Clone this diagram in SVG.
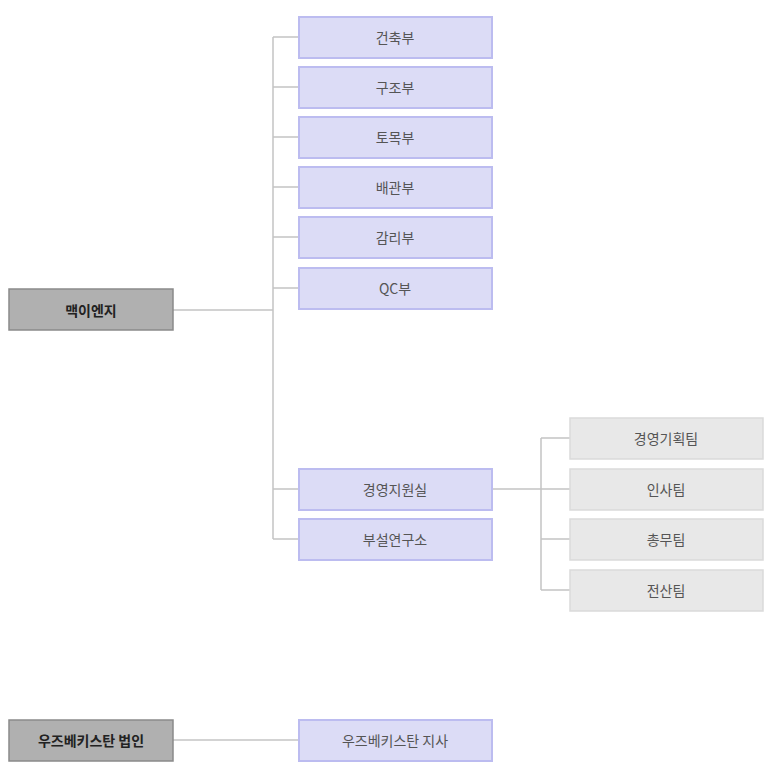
<svg xmlns="http://www.w3.org/2000/svg" width="773" height="769" viewBox="0 0 773 769">
<style>
text{font-family:"Noto Sans CJK KR","Noto Sans",sans-serif;font-size:14px;fill:#555;text-anchor:middle;dominant-baseline:central}
.b rect{fill:#dcdcf6;stroke:#bcbcf0;stroke-width:2}
.g rect{fill:#e8e8e8;stroke:#dadada;stroke-width:1.5}
.d rect{fill:#b0b0b0;stroke:#8a8a8a;stroke-width:1.5}
.d text{font-weight:bold;fill:#222}
#conn{stroke:#c4c4c4;stroke-width:1.5;fill:none}
</style>
<rect width="773" height="769" fill="#fff"/>
<g id="conn">
<path d="M173 310H273M273 37V539M273 37H298M273 87H298M273 137H298M273 187H298M273 237H298M273 288H298M273 489H298M273 539H298"/>
<path d="M492 489H570M541 438V590M541 438H570M541 539H570M541 590H570"/>
<path d="M173 740H298"/>
</g>
<g id="n0" class="d"><rect x="9" y="289" width="164" height="41"/><text x="91" y="310">맥이엔지</text></g>
<g id="n1" class="b"><rect x="299" y="17" width="193" height="41"/><text x="395" y="37">건축부</text></g>
<g id="n2" class="b"><rect x="299" y="67" width="193" height="41"/><text x="395" y="87">구조부</text></g>
<g id="n3" class="b"><rect x="299" y="117" width="193" height="41"/><text x="395" y="137">토목부</text></g>
<g id="n4" class="b"><rect x="299" y="167" width="193" height="41"/><text x="395" y="187">배관부</text></g>
<g id="n5" class="b"><rect x="299" y="217" width="193" height="41"/><text x="395" y="237">감리부</text></g>
<g id="n6" class="b"><rect x="299" y="268" width="193" height="41"/><text x="395" y="288">QC부</text></g>
<g id="n7" class="b"><rect x="299" y="469" width="193" height="41"/><text x="395" y="489">경영지원실</text></g>
<g id="n8" class="b"><rect x="299" y="519" width="193" height="41"/><text x="395" y="539">부설연구소</text></g>
<g id="n9" class="g"><rect x="570" y="418" width="193" height="41"/><text x="666" y="438">경영기획팀</text></g>
<g id="n10" class="g"><rect x="570" y="469" width="193" height="41"/><text x="666" y="489">인사팀</text></g>
<g id="n11" class="g"><rect x="570" y="519" width="193" height="41"/><text x="666" y="539">총무팀</text></g>
<g id="n12" class="g"><rect x="570" y="570" width="193" height="41"/><text x="666" y="590">전산팀</text></g>
<g id="n13" class="d"><rect x="9" y="720" width="164" height="41"/><text x="91" y="740">우즈베키스탄 법인</text></g>
<g id="n14" class="b"><rect x="299" y="720" width="193" height="41"/><text x="395" y="740">우즈베키스탄 지사</text></g>
</svg>
